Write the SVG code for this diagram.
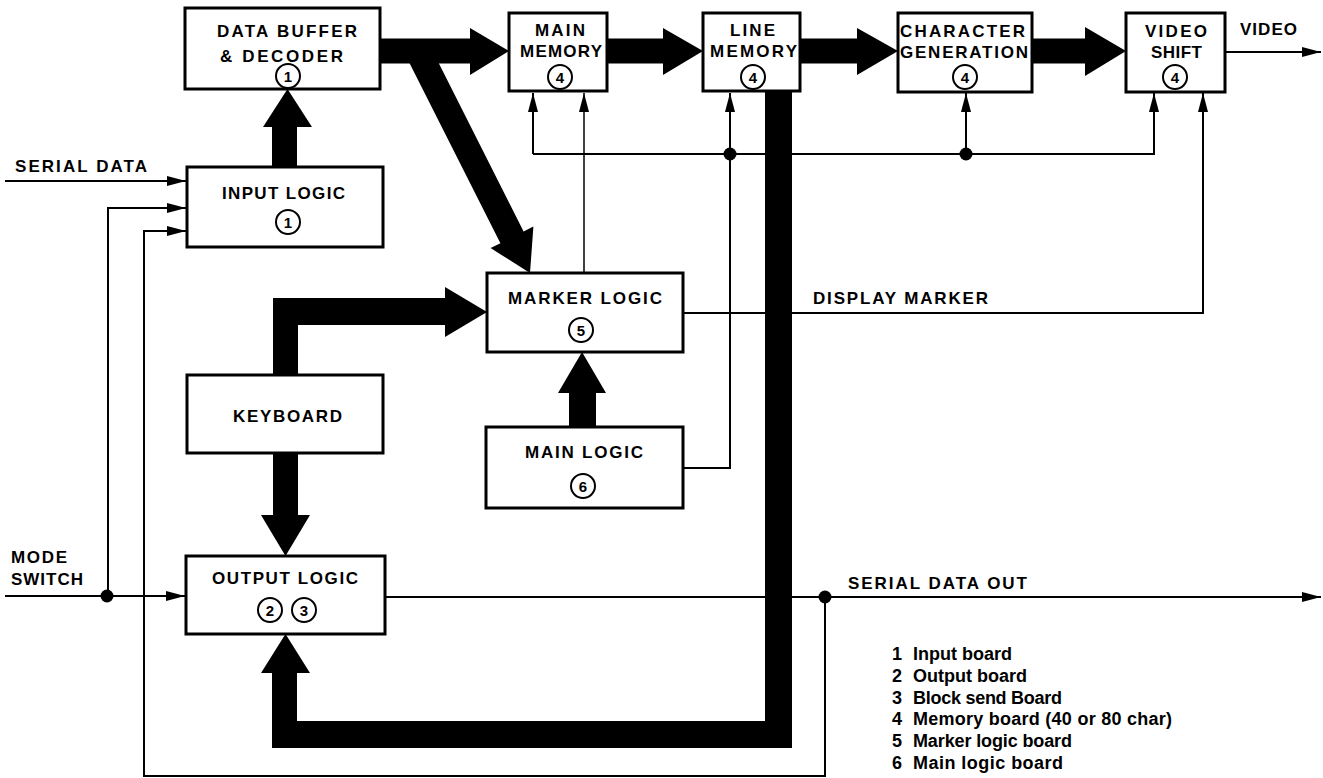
<svg xmlns="http://www.w3.org/2000/svg" width="1323" height="778" viewBox="0 0 1323 778">
<style>
.box{fill:#fff;stroke:#000;stroke-width:3}
.lbl{font-family:"Liberation Sans",Arial,sans-serif;font-weight:bold;font-size:17px;fill:#000}
.leg{font-family:"Liberation Sans",Arial,sans-serif;font-weight:bold;font-size:18px;fill:#000}
.nc{fill:none;stroke:#000;stroke-width:2}
.nt{font-family:"Liberation Sans",Arial,sans-serif;font-weight:bold;font-size:15px;fill:#000;text-anchor:middle}
.wire{fill:none;stroke:#000;stroke-width:2}
.thin{fill:none;stroke:#000;stroke-width:1.5}
.thick{fill:#000;stroke:none}
.dot{fill:#000}
</style>
<defs>
<marker id="ah" markerUnits="userSpaceOnUse" markerWidth="20" markerHeight="12" refX="19" refY="6" orient="auto">
<path d="M0,1 L19,6 L0,11 z" fill="#000"/>
</marker>
</defs>
<rect width="1323" height="778" fill="#fff"/>

<g id="connectors">
<path class="wire" d="M5,181 H186" marker-end="url(#ah)"/>
<path class="wire" d="M108,596 V208 H186" marker-end="url(#ah)"/>
<path class="wire" d="M825,597 V776 H144 V231 H186" marker-end="url(#ah)"/>
<path class="wire" d="M5,596 H185" marker-end="url(#ah)"/>
<path class="wire" d="M385,597 H1321" marker-end="url(#ah)"/>
<path class="wire" d="M1225,52 H1321" marker-end="url(#ah)"/>
<path class="wire" d="M533,154 V93" marker-end="url(#ah)"/>
<path class="wire" d="M533,154 H1154 V93" marker-end="url(#ah)"/>
<path class="wire" d="M966,154 V93" marker-end="url(#ah)"/>
<path class="wire" d="M683,468 H730 V93" marker-end="url(#ah)"/>
<path class="thin" d="M584,273 V93" marker-end="url(#ah)"/>
<path class="wire" d="M683,313 H1203 V93" marker-end="url(#ah)"/>
<circle class="dot" cx="107" cy="596" r="6.5"/>
<circle class="dot" cx="825" cy="597" r="6.5"/>
<circle class="dot" cx="730" cy="154" r="6.5"/>
<circle class="dot" cx="966" cy="154" r="6.5"/>

<polygon class="thick" points="272,167 272,127 263,127 287.5,89 312,127 297,127 297,167"/>
<polygon class="thick" points="380,38.5 470,38.5 470,28 509,51 470,75 470,63.5 380,63.5"/>
<polygon class="thick" points="403.4,50.9 426.6,39.1 523.6,231.4 533.4,226.5 530,273 490.6,248.1 500.4,243.2"/>
<polygon class="thick" points="607,38.5 663,38.5 663,28 703,51 663,75 663,63.5 607,63.5"/>
<polygon class="thick" points="800,38.5 857,38.5 857,28 898,51 857,75 857,63.5 800,63.5"/>
<polygon class="thick" points="1032,38.5 1085,38.5 1085,27 1126,51 1085,76 1085,63.5 1032,63.5"/>
<polygon class="thick" points="273,375 273,298 445,298 445,287 487,312 445,337 445,325 298,325 298,375"/>
<polygon class="thick" points="273,453 298,453 298,515 310,515 285.5,556 261,515 273,515"/>
<polygon class="thick" points="569,427 569,393 558,393 582,352 606,393 596,393 596,427"/>
<polygon class="thick" points="765,91 792,91 792,748 272,748 272,673 261,673 285.5,634 310,673 297,673 297,721 765,721"/>

<text class="lbl" x="15" y="172" textLength="132" lengthAdjust="spacing">SERIAL DATA</text>
<text class="lbl" x="11" y="563" textLength="56" lengthAdjust="spacing">MODE</text>
<text class="lbl" x="11" y="585" textLength="72" lengthAdjust="spacing">SWITCH</text>
<text class="lbl" x="1240" y="35" textLength="57" lengthAdjust="spacing">VIDEO</text>
<text class="lbl" x="813" y="304" textLength="175" lengthAdjust="spacing">DISPLAY MARKER</text>
<text class="lbl" x="848" y="589" textLength="179" lengthAdjust="spacing">SERIAL DATA OUT</text>
</g>

<g id="data-buffer">
<rect class="box" x="185" y="8" width="195" height="81"/>
<text class="lbl" x="217" y="37" textLength="140" lengthAdjust="spacing">DATA BUFFER</text>
<text class="lbl" x="220" y="62" textLength="123" lengthAdjust="spacing">&amp; DECODER</text>
<circle class="nc" cx="288" cy="76" r="12"/><text class="nt" x="288" y="81.5">1</text>
</g>

<g id="input-logic">
<rect class="box" x="187" y="167" width="196" height="80"/>
<text class="lbl" x="222" y="199" textLength="123" lengthAdjust="spacing">INPUT LOGIC</text>
<circle class="nc" cx="288" cy="222" r="12"/><text class="nt" x="288" y="227.5">1</text>
</g>

<g id="main-memory">
<rect class="box" x="509" y="13" width="98" height="78"/>
<text class="lbl" x="535" y="36" textLength="50" lengthAdjust="spacing">MAIN</text>
<text class="lbl" x="520" y="57" textLength="82" lengthAdjust="spacing">MEMORY</text>
<circle class="nc" cx="560" cy="77" r="12"/><text class="nt" x="560" y="82.5">4</text>
</g>

<g id="line-memory">
<rect class="box" x="703" y="13" width="97" height="78"/>
<text class="lbl" x="730" y="36" textLength="45" lengthAdjust="spacing">LINE</text>
<text class="lbl" x="710" y="57" textLength="87" lengthAdjust="spacing">MEMORY</text>
<circle class="nc" cx="753" cy="77" r="12"/><text class="nt" x="753" y="82.5">4</text>
</g>

<g id="character-generation">
<rect class="box" x="898" y="13" width="134" height="79"/>
<text class="lbl" x="900" y="37" textLength="125" lengthAdjust="spacing">CHARACTER</text>
<text class="lbl" x="900" y="58" textLength="128" lengthAdjust="spacing">GENERATION</text>
<circle class="nc" cx="965" cy="77" r="12"/><text class="nt" x="965" y="82.5">4</text>
</g>

<g id="video-shift">
<rect class="box" x="1126" y="13" width="99" height="79"/>
<text class="lbl" x="1145" y="37" textLength="62" lengthAdjust="spacing">VIDEO</text>
<text class="lbl" x="1151" y="58" textLength="51" lengthAdjust="spacing">SHIFT</text>
<circle class="nc" cx="1175" cy="77" r="12"/><text class="nt" x="1175" y="82.5">4</text>
</g>

<g id="marker-logic">
<rect class="box" x="487" y="273" width="196" height="79"/>
<text class="lbl" x="508" y="304" textLength="154" lengthAdjust="spacing">MARKER LOGIC</text>
<circle class="nc" cx="581" cy="330" r="12"/><text class="nt" x="581" y="335.5">5</text>
</g>

<g id="keyboard">
<rect class="box" x="187" y="375" width="196" height="78"/>
<text class="lbl" x="233" y="422" textLength="109" lengthAdjust="spacing">KEYBOARD</text>
</g>

<g id="main-logic">
<rect class="box" x="486" y="427" width="197" height="81"/>
<text class="lbl" x="525" y="458" textLength="118" lengthAdjust="spacing">MAIN LOGIC</text>
<circle class="nc" cx="583" cy="486" r="12"/><text class="nt" x="583" y="491.5">6</text>
</g>

<g id="output-logic">
<rect class="box" x="186" y="556" width="199" height="78"/>
<text class="lbl" x="212" y="584" textLength="146" lengthAdjust="spacing">OUTPUT LOGIC</text>
<circle class="nc" cx="270" cy="610" r="12"/><text class="nt" x="270" y="615.5">2</text>
<circle class="nc" cx="304" cy="610" r="12"/><text class="nt" x="304" y="615.5">3</text>
</g>

<g id="legend">
<text class="leg" x="892" y="660">1</text><text class="leg" x="913" y="660" textLength="99" lengthAdjust="spacing">Input board</text>
<text class="leg" x="892" y="682">2</text><text class="leg" x="913" y="682" textLength="114" lengthAdjust="spacing">Output board</text>
<text class="leg" x="892" y="704">3</text><text class="leg" x="913" y="704" textLength="149" lengthAdjust="spacing">Block send Board</text>
<text class="leg" x="892" y="725">4</text><text class="leg" x="913" y="725" textLength="259" lengthAdjust="spacing">Memory board (40 or 80 char)</text>
<text class="leg" x="892" y="747">5</text><text class="leg" x="913" y="747" textLength="159" lengthAdjust="spacing">Marker logic board</text>
<text class="leg" x="892" y="769">6</text><text class="leg" x="913" y="769" textLength="150" lengthAdjust="spacing">Main logic board</text>
</g>
</svg>
